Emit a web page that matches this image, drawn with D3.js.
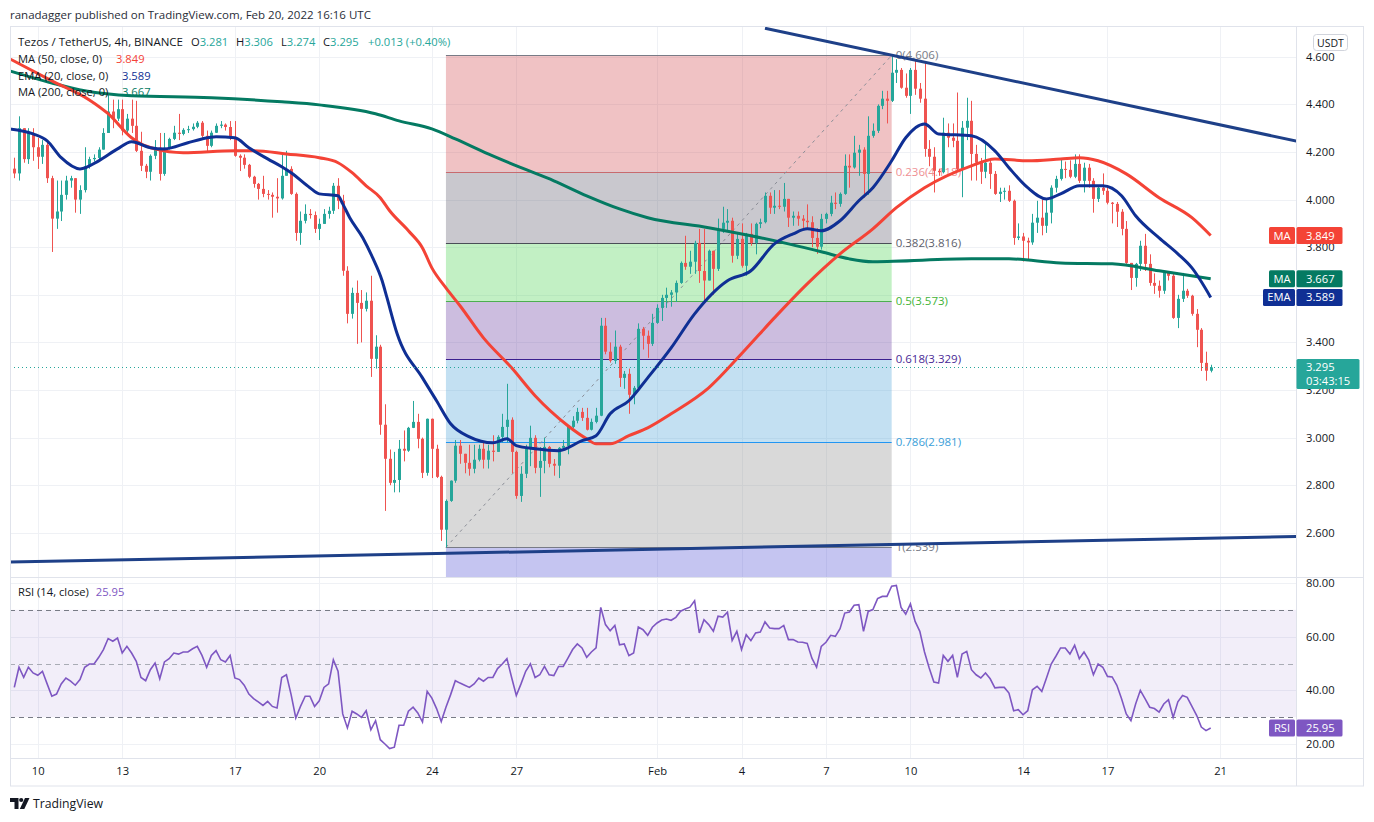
<!DOCTYPE html>
<html>
<head>
<meta charset="utf-8">
<script src="https://cdn.jsdelivr.net/npm/d3@7"></script>
<style>
	html, body { margin: 0; padding: 0; background: #fff; }
	svg { display: block; font-family: "Open Sans", "Noto Sans", sans-serif; }
</style>
</head>
<body>
<div id="chart-area"></div>
<script>
/*
*    Tezos / TetherUS 4h chart with MA, EMA, fib retracement and RSI
*/

// ---------- DATA ----------
const firstBar = Date.UTC(2022, 0, 9, 4);   // first 4h bar on screen
const barHours = 4;
const firstOpen = 4.13;

const closes = [
	4.11,4.30,4.17,4.28,4.22,4.18,4.23,4.09,3.92,3.95,
	4.02,4.08,4.09,4.00,4.04,4.14,4.17,4.175,4.21,4.28,
	4.37,4.34,4.38,4.29,4.34,4.31,4.205,4.142,4.117,4.184,
	4.218,4.108,4.218,4.255,4.281,4.276,4.293,4.296,4.306,4.323,
	4.268,4.226,4.281,4.31,4.315,4.305,4.26,4.184,4.176,4.146,
	4.096,4.066,4.045,4.024,4.02,4.012,4.005,4.10,4.129,4.024,
	3.86,3.911,3.94,3.935,3.877,3.898,3.94,3.953,4.058,3.995,
	3.701,3.52,3.608,3.566,3.541,3.575,3.331,3.382,3.054,2.911,
	2.81,2.822,2.953,2.945,3.041,3.066,2.995,2.852,3.079,2.953,
	2.835,2.613,2.734,2.819,2.966,2.932,2.894,2.869,2.907,2.953,
	2.907,2.945,2.94,3.003,3.045,3.075,2.94,2.755,2.848,2.953,
	2.999,2.873,2.902,2.961,2.89,2.882,2.957,2.965,3.045,3.071,
	3.108,3.083,3.033,3.066,3.092,3.47,3.361,3.323,3.382,3.251,
	3.268,3.18,3.209,3.457,3.428,3.394,3.482,3.545,3.587,3.60,
	3.61,3.65,3.734,3.718,3.739,3.818,3.70,3.66,3.785,3.709,
	3.877,3.903,3.911,3.764,3.835,3.722,3.856,3.818,3.898,3.905,
	4.016,3.966,3.974,3.97,4.003,3.924,3.932,3.92,3.911,3.905,
	3.839,3.802,3.919,3.94,3.987,3.982,4.024,4.142,4.135,4.197,
	4.21,4.108,4.268,4.289,4.394,4.424,4.415,4.533,4.545,4.47,
	4.436,4.545,4.466,4.424,4.213,4.18,4.121,4.115,4.281,4.26,
	4.247,4.129,4.302,4.331,4.192,4.155,4.117,4.155,4.108,4.024,
	4.033,4.037,3.995,3.839,3.845,3.827,3.82,3.903,3.924,3.89,
	3.945,4.05,4.087,4.129,4.125,4.096,4.15,4.079,4.134,4.079,
	4.003,4.05,4.037,3.987,3.982,3.949,3.877,3.734,3.671,3.73,
	3.806,3.73,3.65,3.638,3.617,3.692,3.68,3.503,3.583,3.617,
	3.596,3.52,3.453,3.314,3.281,3.295
];

const highs = [
	4.176,4.35,4.30,4.30,4.30,4.26,4.25,4.25,4.10,4.08,
	4.08,4.10,4.10,4.08,4.06,4.22,4.18,4.19,4.22,4.30,
	4.44,4.42,4.42,4.42,4.36,4.42,4.415,4.285,4.15,4.19,
	4.25,4.28,4.28,4.26,4.31,4.36,4.30,4.31,4.32,4.33,
	4.33,4.29,4.29,4.32,4.33,4.32,4.33,4.33,4.19,4.19,
	4.15,4.10,4.07,4.10,4.04,4.03,4.09,4.20,4.205,4.14,
	4.03,3.95,3.98,3.96,3.95,3.92,3.96,3.97,4.07,4.09,
	4.02,3.72,3.63,3.66,3.62,3.61,3.68,3.43,3.39,3.14,
	2.95,2.94,2.99,3.03,3.045,3.154,3.10,3.00,3.08,3.08,
	2.97,2.84,2.74,2.82,2.99,2.99,2.93,2.97,2.97,2.97,
	2.98,2.97,3.01,3.01,3.10,3.226,3.085,2.945,2.88,2.97,
	3.05,3.01,2.96,3.00,2.965,2.91,2.96,2.99,3.045,3.09,
	3.125,3.125,3.125,3.08,3.125,3.503,3.503,3.40,3.45,3.39,
	3.28,3.29,3.217,3.48,3.465,3.45,3.52,3.56,3.60,3.63,
	3.62,3.66,3.74,3.848,3.785,3.827,3.877,3.877,3.79,3.785,
	3.92,3.97,3.96,3.924,3.856,3.90,3.86,3.90,3.903,3.92,
	4.03,4.03,4.04,4.04,4.07,4.003,3.95,3.95,3.935,3.98,
	3.93,3.88,3.94,3.945,4.016,4.03,4.03,4.19,4.19,4.268,
	4.23,4.22,4.35,4.32,4.40,4.457,4.457,4.606,4.59,4.553,
	4.53,4.553,4.585,4.49,4.575,4.25,4.22,4.13,4.344,4.32,
	4.32,4.45,4.33,4.428,4.415,4.23,4.175,4.24,4.175,4.12,
	4.05,4.05,4.06,4.00,3.90,3.86,3.84,3.94,3.995,4.00,
	4.00,4.06,4.10,4.17,4.16,4.165,4.19,4.19,4.155,4.15,
	4.09,4.06,4.11,4.06,3.99,3.99,3.96,3.91,3.734,3.734,
	3.827,3.856,3.77,3.69,3.66,3.70,3.70,3.692,3.60,3.692,
	3.625,3.60,3.54,3.46,3.361,3.306
];

const lows = [
	4.09,4.08,4.155,4.15,4.163,4.129,4.15,4.07,3.78,3.877,
	3.91,4.00,4.05,3.945,3.94,4.03,4.13,4.16,4.16,4.21,
	4.28,4.30,4.33,4.27,4.28,4.28,4.20,4.12,4.09,4.08,
	4.17,4.08,4.10,4.21,4.25,4.25,4.27,4.28,4.29,4.30,
	4.26,4.20,4.22,4.28,4.30,4.29,4.25,4.18,4.12,4.13,
	4.09,4.05,4.00,4.01,4.00,3.924,3.945,4.00,4.10,4.02,
	3.827,3.81,3.90,3.92,3.86,3.83,3.90,3.92,3.94,3.96,
	3.68,3.48,3.50,3.394,3.40,3.53,3.255,3.29,3.012,2.692,
	2.80,2.77,2.77,2.90,2.94,3.04,2.955,2.83,2.84,2.83,
	2.83,2.566,2.539,2.73,2.81,2.89,2.85,2.84,2.85,2.90,
	2.87,2.87,2.90,2.94,2.98,2.98,2.85,2.743,2.73,2.83,
	2.88,2.85,2.751,2.85,2.875,2.84,2.83,2.95,2.93,3.04,
	3.06,3.07,3.03,3.03,3.06,3.09,3.35,3.315,3.31,3.213,
	3.205,3.10,3.14,3.20,3.37,3.335,3.385,3.478,3.49,3.545,
	3.55,3.57,3.646,3.705,3.688,3.688,3.65,3.57,3.66,3.60,
	3.70,3.86,3.87,3.735,3.75,3.714,3.68,3.806,3.77,3.88,
	3.90,3.94,3.94,3.96,3.95,3.885,3.89,3.89,3.88,3.88,
	3.80,3.772,3.79,3.90,3.93,3.96,3.97,4.02,4.05,4.13,
	4.10,4.008,4.02,4.26,4.28,4.38,4.32,4.41,4.49,4.466,
	4.428,4.36,4.44,4.407,4.18,4.14,4.03,4.10,4.11,4.22,
	4.22,4.12,4.01,4.25,4.08,4.08,4.066,4.09,4.045,4.02,
	3.99,4.00,3.99,3.81,3.83,3.74,3.75,3.81,3.86,3.85,
	3.86,3.90,4.03,4.08,4.09,4.09,4.09,4.07,4.03,4.05,
	3.945,3.99,4.02,3.98,3.90,3.885,3.85,3.73,3.62,3.634,
	3.70,3.70,3.638,3.604,3.588,3.604,3.66,3.499,3.46,3.57,
	3.587,3.512,3.38,3.28,3.239,3.274
];

const rsiValues = [
	41.1,48.6,44.8,48.6,46.5,45.6,47.1,42.4,37.8,38.6,
	42.4,44.6,43.4,41.9,44.0,48.6,49.8,49.8,52.3,55.2,
	59.3,58.3,59.5,53.9,56.4,53.9,50.8,44.8,43.6,47.7,
	50.2,44.3,50.6,51.8,53.9,53.5,54.3,54.3,55.5,56.4,
	53.0,48.6,53.0,54.8,51.4,50.6,53.0,44.6,44.0,41.9,
	38.6,36.9,35.7,34.4,35.9,34.0,33.4,44.8,45.8,38.4,
	29.7,34.0,37.8,37.8,34.0,36.1,41.1,42.4,51.4,47.1,
	31.2,26.0,32.2,31.2,29.9,32.4,25.3,28.7,21.6,20.0,
	18.3,18.8,27.0,27.0,32.2,33.7,31.6,28.2,39.6,37.1,
	33.2,28.4,33.7,38.4,43.6,42.7,41.9,41.1,42.4,44.6,
	43.4,44.8,44.8,48.1,49.8,51.8,44.8,38.1,42.4,47.1,
	49.9,44.8,45.8,48.9,45.8,45.5,48.9,48.9,52.0,55.2,
	57.3,55.8,52.3,54.3,55.8,70.9,64.5,62.2,64.2,57.0,
	57.3,52.9,53.9,63.6,62.6,60.5,63.5,65.1,66.2,66.6,
	66.1,67.2,69.5,70.3,71.0,73.4,61.4,66.3,64.5,62.0,
	67.6,67.3,69.1,58.6,62.0,55.2,60.7,58.5,61.4,61.7,
	65.5,63.2,63.0,63.0,64.2,58.9,58.9,58.0,57.9,57.5,
	52.0,48.6,56.4,57.9,60.5,60.1,63.0,68.8,69.2,71.7,
	71.9,62.0,69.4,70.1,74.2,75.0,75.0,78.8,79.1,70.9,
	68.4,72.2,65.7,62.0,54.3,48.3,43.1,42.7,53.0,50.8,
	53.0,44.8,53.5,54.5,47.7,45.8,44.6,46.5,44.3,40.9,
	41.1,41.1,39.0,32.4,32.8,30.9,32.4,40.2,41.5,39.6,
	44.6,49.8,52.7,55.8,55.8,53.5,56.8,51.8,54.3,51.4,
	45.8,49.8,48.6,45.2,45.0,41.9,36.9,31.2,28.7,34.9,
	40.0,36.9,33.7,33.2,31.9,34.9,36.5,29.9,35.7,38.1,
	37.4,34.0,30.7,26.3,25.0,25.95
];

// moving averages, sampled along the drawn lines (bar index, value)
const ma50Idx = [-1,8,16,20,25,27,30,36,47,51,58,65,69,72,75,78,80,84,87,89,
	92,95,100,106,111,118,122,124,127,131,135,140,148,155,162,169,176,183,188,194,
	204,209,216,223,227,231,237,244,251,255];
const ma50Val = [4.592,4.499,4.419,4.361,4.260,4.234,4.213,4.197,4.205,4.205,4.192,4.176,4.155,4.113,4.058,4.008,3.953,3.869,3.797,3.713,
	3.629,3.554,3.419,3.293,3.176,3.050,2.995,2.974,2.974,3.008,3.041,3.100,3.209,3.352,3.503,3.646,3.772,3.877,3.966,4.050,
	4.142,4.171,4.163,4.171,4.176,4.163,4.108,4.008,3.924,3.849];

const ema20Idx = [-1,4,7,10,14,18,22,25,29,32,37,40,43,47,50,54,57,59,63,65,
	69,70,71.5,74.3,76.4,78.4,79.4,81.6,87,90,93,97,102,105,107,111,116,121,124,127,
	131,135,140,145,152,157,162,166,169,172,176,180,183,187,190,194,197,204,209,212,
	216,220,223,227,232,236,239,244,248,251,255];
const ema20Val = [4.297,4.276,4.247,4.176,4.129,4.163,4.213,4.243,4.218,4.213,4.239,4.255,4.264,4.260,4.218,4.171,4.138,4.113,4.050,4.024,
	4.016,3.982,3.924,3.839,3.755,3.659,3.59,3.436,3.251,3.155,3.058,3.003,2.978,2.995,2.966,2.953,2.945,2.987,3.008,3.100,
	3.155,3.251,3.377,3.520,3.659,3.701,3.814,3.856,3.877,3.869,3.911,3.995,4.050,4.163,4.260,4.318,4.276,4.268,4.205,4.134,
	4.050,4.003,4.024,4.058,4.058,4.016,3.932,3.839,3.772,3.713,3.589];

const ma200Idx = [-1,8,15,25,42,57,65,77,82,89,94,101,108,115,122,129,135,148,157,165,
	172,178,183,204,212,223,234,244,255];
const ma200Val = [4.541,4.49,4.457,4.436,4.428,4.411,4.398,4.361,4.331,4.297,4.255,4.192,4.134,4.079,4.016,3.961,3.924,3.882,3.848,3.814,
	3.781,3.751,3.739,3.751,3.751,3.734,3.730,3.701,3.667];

// fib retracement drawn from the Jan 24 low to the Feb 9 high
const fibStartIdx = 92, fibEndIdx = 187;
const fibRatios = [0, 0.236, 0.382, 0.5, 0.618, 0.786, 1];
const fibPrices = [4.606, 4.118, 3.816, 3.573, 3.329, 2.981, 2.539];
const fibExtPrice = 1.977;   // 1.272 level, below the visible pane

// trend lines (bar index, price)
const upperTrend = [[160, 4.72], [274, 4.243]];
const lowerTrend = [[-1, 2.477], [274, 2.585]];

const priceTicks = [4.6, 4.4, 4.2, 4.0, 3.8, 3.6, 3.4, 3.2, 3.0, 2.8, 2.6];
const rsiTicks = [80, 60, 40, 20];
const rsiLevels = [70, 50, 30];
const dateTicks = [[0,10],[0,13],[0,17],[0,20],[0,24],[0,27],[1,1],[1,4],[1,7],[1,10],[1,14],[1,17],[1,21]]
	.map(d => new Date(Date.UTC(2022, d[0], d[1])));
const dateLabels = ['10','13','17','20','24','27','Feb','4','7','10','14','17','21'];

const lastBar = { o: '3.281', h: '3.306', l: '3.274', c: '3.295', chg: '+0.013 (+0.40%)' };
const lastClose = 3.295;
const lastRsi = 25.95;
const countdown = '03:43:15';
const ma50Last = 3.849, ema20Last = 3.589, ma200Last = 3.667;

// ---------- LAYOUT ----------
const width = 1374, height = 822;
const pane = { left: 10, right: 1296, top: 27, priceBottom: 577, rsiTop: 578, rsiBottom: 758, axisBottom: 786, frameRight: 1363 };

const upColor = '#26a69a', downColor = '#ef5350';
const ma50Color = '#f44336', ema20Color = '#0f2f94', ma200Color = '#047a62';
const trendColor = '#1e4088';
const rsiColor = '#7e57c2';
const gridColor = '#eff1f5', borderColor = '#e0e3eb', textColor = '#131722';

const svg = d3.select('#chart-area')
	.append('svg')
		.attr('width', width)
		.attr('height', height);

svg.append('rect').attr('width', width).attr('height', height).attr('fill', '#fff');

const defs = svg.append('defs');
defs.append('clipPath').attr('id', 'clip-price')
	.append('rect')
		.attr('x', pane.left).attr('y', pane.top)
		.attr('width', pane.right - pane.left).attr('height', pane.priceBottom - pane.top);
defs.append('clipPath').attr('id', 'clip-rsi')
	.append('rect')
		.attr('x', pane.left).attr('y', pane.rsiTop)
		.attr('width', pane.right - pane.left).attr('height', pane.rsiBottom - pane.rsiTop);

// SCALES
const barTime = i => new Date(firstBar + i * barHours * 3600 * 1000);
const xScale = d3.scaleTime()
	.domain([barTime(0), barTime(closes.length - 1)])
	.range([14.3, 1210.7]);
const xi = i => xScale(barTime(i));

const yScale = d3.scaleLinear()
	.domain([2.6, 4.6])
	.range([532.8, 56.8]);

const rsiScale = d3.scaleLinear()
	.domain([20, 80])
	.range([744, 583]);

const crisp = v => Math.round(v) + 0.5;

// GRID
const grid = svg.append('g').attr('stroke', gridColor).attr('stroke-width', 1);
dateTicks.forEach(d => {
	grid.append('line')
		.attr('x1', crisp(xScale(d))).attr('x2', crisp(xScale(d)))
		.attr('y1', pane.top).attr('y2', pane.rsiBottom);
});
priceTicks.forEach(p => {
	grid.append('line')
		.attr('x1', pane.left).attr('x2', pane.right)
		.attr('y1', crisp(yScale(p))).attr('y2', crisp(yScale(p)));
});
rsiTicks.forEach(r => {
	grid.append('line')
		.attr('x1', pane.left).attr('x2', pane.right)
		.attr('y1', crisp(rsiScale(r))).attr('y2', crisp(rsiScale(r)));
});

// FIB RETRACEMENT
const fibFills = ['rgba(212,81,86,0.35)', 'rgba(101,98,115,0.35)', 'rgba(81,212,86,0.35)',
	'rgba(109,66,164,0.35)', 'rgba(84,166,218,0.35)', 'rgba(146,146,146,0.35)'];
const fibExtFill = 'rgba(78,78,212,0.33)';
const fibLineColors = ['#787b86', '#c96a6e', '#4a4d57', '#4caf50', '#3b1f8f', '#2196f3', '#787b86'];
const fibTextColors = ['#787b86', '#ee8f93', '#5d606b', '#43b437', '#4a2a96', '#3a9ed8', '#787b86'];

const fibG = svg.append('g').attr('clip-path', 'url(#clip-price)');
const fx0 = xi(fibStartIdx), fx1 = xi(fibEndIdx);

fibPrices.slice(0, -1).forEach((p, k) => {
	fibG.append('rect')
		.attr('x', fx0).attr('width', fx1 - fx0)
		.attr('y', yScale(p)).attr('height', yScale(fibPrices[k + 1]) - yScale(p))
		.attr('fill', fibFills[k]);
});
fibG.append('rect')
	.attr('x', fx0).attr('width', fx1 - fx0)
	.attr('y', yScale(fibPrices[6])).attr('height', yScale(fibExtPrice) - yScale(fibPrices[6]))
	.attr('fill', fibExtFill);

fibPrices.forEach((p, k) => {
	fibG.append('line')
		.attr('x1', fx0).attr('x2', fx1)
		.attr('y1', crisp(yScale(p))).attr('y2', crisp(yScale(p)))
		.attr('stroke', fibLineColors[k]).attr('stroke-width', 1);
	fibG.append('text')
		.attr('x', fx1 + 4)
		.attr('y', yScale(p) + 4)
		.attr('font-size', 11.5)
		.attr('fill', fibTextColors[k])
		.text(`${fibRatios[k]}(${p.toFixed(3)})`);
});

fibG.append('line')
	.attr('x1', fx0).attr('y1', yScale(fibPrices[6]))
	.attr('x2', fx1).attr('y2', yScale(fibPrices[0]))
	.attr('stroke', '#8a8d96').attr('stroke-width', 1)
	.attr('stroke-dasharray', '3,4');

// CANDLES
const bars = closes.map((c, i) => ({ i, o: i ? closes[i - 1] : firstOpen, h: highs[i], l: lows[i], c }));
const candleG = svg.append('g').attr('clip-path', 'url(#clip-price)');

candleG.selectAll('line.wick')
	.data(bars)
	.join('line')
		.attr('class', 'wick')
		.attr('x1', d => crisp(xi(d.i)))
		.attr('x2', d => crisp(xi(d.i)))
		.attr('y1', d => yScale(Math.max(d.h, d.o, d.c)))
		.attr('y2', d => yScale(Math.min(d.l, d.o, d.c)))
		.attr('stroke', d => d.c >= d.o ? upColor : downColor)
		.attr('stroke-width', 1);

candleG.selectAll('rect.body')
	.data(bars)
	.join('rect')
		.attr('class', 'body')
		.attr('x', d => Math.round(xi(d.i)) - 1)
		.attr('width', 3)
		.attr('y', d => yScale(Math.max(d.o, d.c)))
		.attr('height', d => Math.max(1, Math.abs(yScale(d.o) - yScale(d.c))))
		.attr('fill', d => d.c >= d.o ? upColor : downColor);

// MOVING AVERAGES
const maLine = d3.line()
	.x(d => xi(d[0]))
	.y(d => yScale(d[1]))
	.curve(d3.curveMonotoneX);

const maG = svg.append('g').attr('clip-path', 'url(#clip-price)').attr('fill', 'none');
maG.append('path').attr('d', maLine(d3.zip(ma200Idx, ma200Val))).attr('stroke', ma200Color).attr('stroke-width', 3);
maG.append('path').attr('d', maLine(d3.zip(ma50Idx, ma50Val))).attr('stroke', ma50Color).attr('stroke-width', 3);
maG.append('path').attr('d', maLine(d3.zip(ema20Idx, ema20Val))).attr('stroke', ema20Color).attr('stroke-width', 3);

// TREND LINES
const trendLine = d3.line().x(d => xi(d[0])).y(d => yScale(d[1]));
maG.append('path').attr('d', trendLine(upperTrend)).attr('stroke', trendColor).attr('stroke-width', 3);
maG.append('path').attr('d', trendLine(lowerTrend)).attr('stroke', trendColor).attr('stroke-width', 3);

// current price line
svg.append('line')
	.attr('x1', pane.left).attr('x2', pane.right)
	.attr('y1', crisp(yScale(lastClose))).attr('y2', crisp(yScale(lastClose)))
	.attr('stroke', upColor).attr('stroke-width', 1)
	.attr('stroke-dasharray', '1,3');

// RSI PANE
const rsiG = svg.append('g').attr('clip-path', 'url(#clip-rsi)');
rsiG.append('rect')
	.attr('x', pane.left).attr('width', pane.right - pane.left)
	.attr('y', rsiScale(70)).attr('height', rsiScale(30) - rsiScale(70))
	.attr('fill', 'rgba(126,87,194,0.1)');
rsiLevels.forEach(r => {
	rsiG.append('line')
		.attr('x1', pane.left).attr('x2', pane.right)
		.attr('y1', crisp(rsiScale(r))).attr('y2', crisp(rsiScale(r)))
		.attr('stroke', r === 50 ? '#a9acb5' : '#787b86')
		.attr('stroke-width', 1)
		.attr('stroke-dasharray', '5,4');
});
rsiG.append('path')
	.attr('d', d3.line().x((d, i) => xi(i)).y(d => rsiScale(d))(rsiValues))
	.attr('fill', 'none')
	.attr('stroke', rsiColor)
	.attr('stroke-width', 1.6);

// FRAME & SEPARATORS
const frame = svg.append('g').attr('stroke', borderColor).attr('stroke-width', 1).attr('fill', 'none');
frame.append('rect')
	.attr('x', pane.left + 0.5).attr('y', pane.top - 0.5)
	.attr('width', pane.frameRight - pane.left).attr('height', pane.axisBottom - pane.top + 0.5);
frame.append('line').attr('x1', crisp(pane.right)).attr('x2', crisp(pane.right)).attr('y1', pane.top).attr('y2', pane.axisBottom);
frame.append('line').attr('x1', pane.left).attr('x2', pane.frameRight).attr('y1', pane.priceBottom + 0.5).attr('y2', pane.priceBottom + 0.5);
frame.append('line').attr('x1', pane.left).attr('x2', pane.frameRight).attr('y1', pane.rsiBottom + 0.5).attr('y2', pane.rsiBottom + 0.5);

// AXES
const styleAxis = g => {
	g.select('.domain').remove();
	g.attr('font-family', null).attr('font-size', null);
	g.selectAll('text').attr('fill', textColor).attr('font-size', 11.2);
};

svg.append('g')
	.attr('transform', `translate(${pane.right},0)`)
	.call(d3.axisRight(yScale).tickValues(priceTicks).tickFormat(d3.format('.3f')).tickSize(0).tickPadding(10))
	.call(styleAxis);

svg.append('g')
	.attr('transform', `translate(${pane.right},0)`)
	.call(d3.axisRight(rsiScale).tickValues(rsiTicks).tickFormat(d3.format('.2f')).tickSize(0).tickPadding(10))
	.call(styleAxis);

svg.append('g')
	.attr('transform', `translate(0,${pane.rsiBottom})`)
	.call(d3.axisBottom(xScale).tickValues(dateTicks).tickFormat((d, i) => dateLabels[i]).tickSize(0).tickPadding(9))
	.call(styleAxis);

// USDT badge
svg.append('rect')
	.attr('x', 1313.5).attr('y', 34.5).attr('width', 34).attr('height', 16).attr('rx', 3)
	.attr('fill', '#fff').attr('stroke', '#d1d4dc');
svg.append('text')
	.attr('x', 1330.5).attr('y', 46.5).attr('text-anchor', 'middle')
	.attr('font-size', 10.5).attr('fill', textColor)
	.text('USDT');

// PRICE TAGS
function axisTag(y, color, name, nameWidth, label, boxWidth) {
	const g = svg.append('g');
	if (name) {
		g.append('rect')
			.attr('x', pane.right - 1 - nameWidth).attr('y', y - 8.5)
			.attr('width', nameWidth).attr('height', 17).attr('rx', 1.5)
			.attr('fill', color);
		g.append('text')
			.attr('x', pane.right - 1 - nameWidth / 2).attr('y', y + 4)
			.attr('text-anchor', 'middle').attr('font-size', 11.2).attr('fill', '#fff')
			.text(name);
	}
	g.append('rect')
		.attr('x', pane.right + 0.5).attr('y', y - 8.5)
		.attr('width', boxWidth).attr('height', 17).attr('rx', 1.5)
		.attr('fill', color);
	g.append('text')
		.attr('x', pane.right + 10).attr('y', y + 4)
		.attr('font-size', 11.2).attr('fill', '#fff')
		.text(label);
}

axisTag(yScale(ma50Last), ma50Color, 'MA', 26, ma50Last.toFixed(3), 46);
axisTag(yScale(ma200Last), ma200Color, 'MA', 26, ma200Last.toFixed(3), 46);
axisTag(yScale(ema20Last), ema20Color, 'EMA', 32, ema20Last.toFixed(3), 46);
axisTag(rsiScale(lastRsi), rsiColor, 'RSI', 26, lastRsi.toFixed(2), 46);

// current price tag with countdown
const yNow = yScale(lastClose);
svg.append('rect')
	.attr('x', pane.right + 0.5).attr('y', yNow - 8.5)
	.attr('width', 63).attr('height', 30).attr('rx', 1.5)
	.attr('fill', upColor);
svg.append('text')
	.attr('x', pane.right + 10).attr('y', yNow + 4)
	.attr('font-size', 11.2).attr('fill', '#fff')
	.text(lastClose.toFixed(3));
svg.append('text')
	.attr('x', pane.right + 10).attr('y', yNow + 18)
	.attr('font-size', 11.2).attr('fill', '#fff')
	.text(countdown);

// LEGENDS
function fitText(sel, targetWidth) {
	const len = sel.node().getComputedTextLength();
	const fs = parseFloat(sel.attr('font-size'));
	sel.attr('font-size', (fs * targetWidth / len).toFixed(2));
}

const header = svg.append('text')
	.attr('x', 10).attr('y', 19)
	.attr('font-size', 12).attr('fill', '#2a2e39')
	.text('ranadagger published on TradingView.com, Feb 20, 2022 16:16 UTC');
fitText(header, 361);

const legend = svg.append('g').attr('font-size', 11.2);
const symbol = legend.append('text')
	.attr('x', 18).attr('y', 46)
	.attr('font-size', 11.2).attr('fill', textColor)
	.text('Tezos / TetherUS, 4h, BINANCE');
fitText(symbol, 165);

[['O', lastBar.o, 191], ['H', lastBar.h, 236], ['L', lastBar.l, 281], ['C', lastBar.c, 323]].forEach(d => {
	const t = legend.append('text').attr('x', d[2]).attr('y', 46);
	t.append('tspan').attr('fill', textColor).text(d[0]);
	t.append('tspan').attr('fill', upColor).text(d[1]);
});
legend.append('text').attr('x', 368).attr('y', 46).attr('fill', upColor).text(lastBar.chg);

[['MA (50, close, 0)', ma50Last, ma50Color, 63, 116],
 ['EMA (20, close, 0)', ema20Last, ema20Color, 80, 122],
 ['MA (200, close, 0)', ma200Last, ma200Color, 96, 122]].forEach(d => {
	legend.append('text').attr('x', 18).attr('y', d[3]).attr('fill', textColor).text(d[0]);
	legend.append('text').attr('x', d[4]).attr('y', d[3]).attr('fill', d[2]).text(d[1].toFixed(3));
});

const rsiLegend = legend.append('text').attr('x', 18).attr('y', 596);
rsiLegend.append('tspan').attr('fill', textColor).text('RSI (14, close)');
rsiLegend.append('tspan').attr('dx', 7).attr('fill', rsiColor).text(lastRsi.toFixed(2));

// TRADINGVIEW MARK
const logo = svg.append('g').attr('fill', textColor);
logo.append('path').attr('d', 'M10 798h8.5v11h-4v-7h-4.5z');
logo.append('circle').attr('cx', 21.2).attr('cy', 800).attr('r', 2.1);
logo.append('path').attr('d', 'M25 798h4.5l-5.2 11h-4.5z');
const brand = svg.append('text')
	.attr('x', 33).attr('y', 808)
	.attr('font-size', 13).attr('fill', textColor)
	.text('TradingView');
fitText(brand, 70);
</script>
</body>
</html>
